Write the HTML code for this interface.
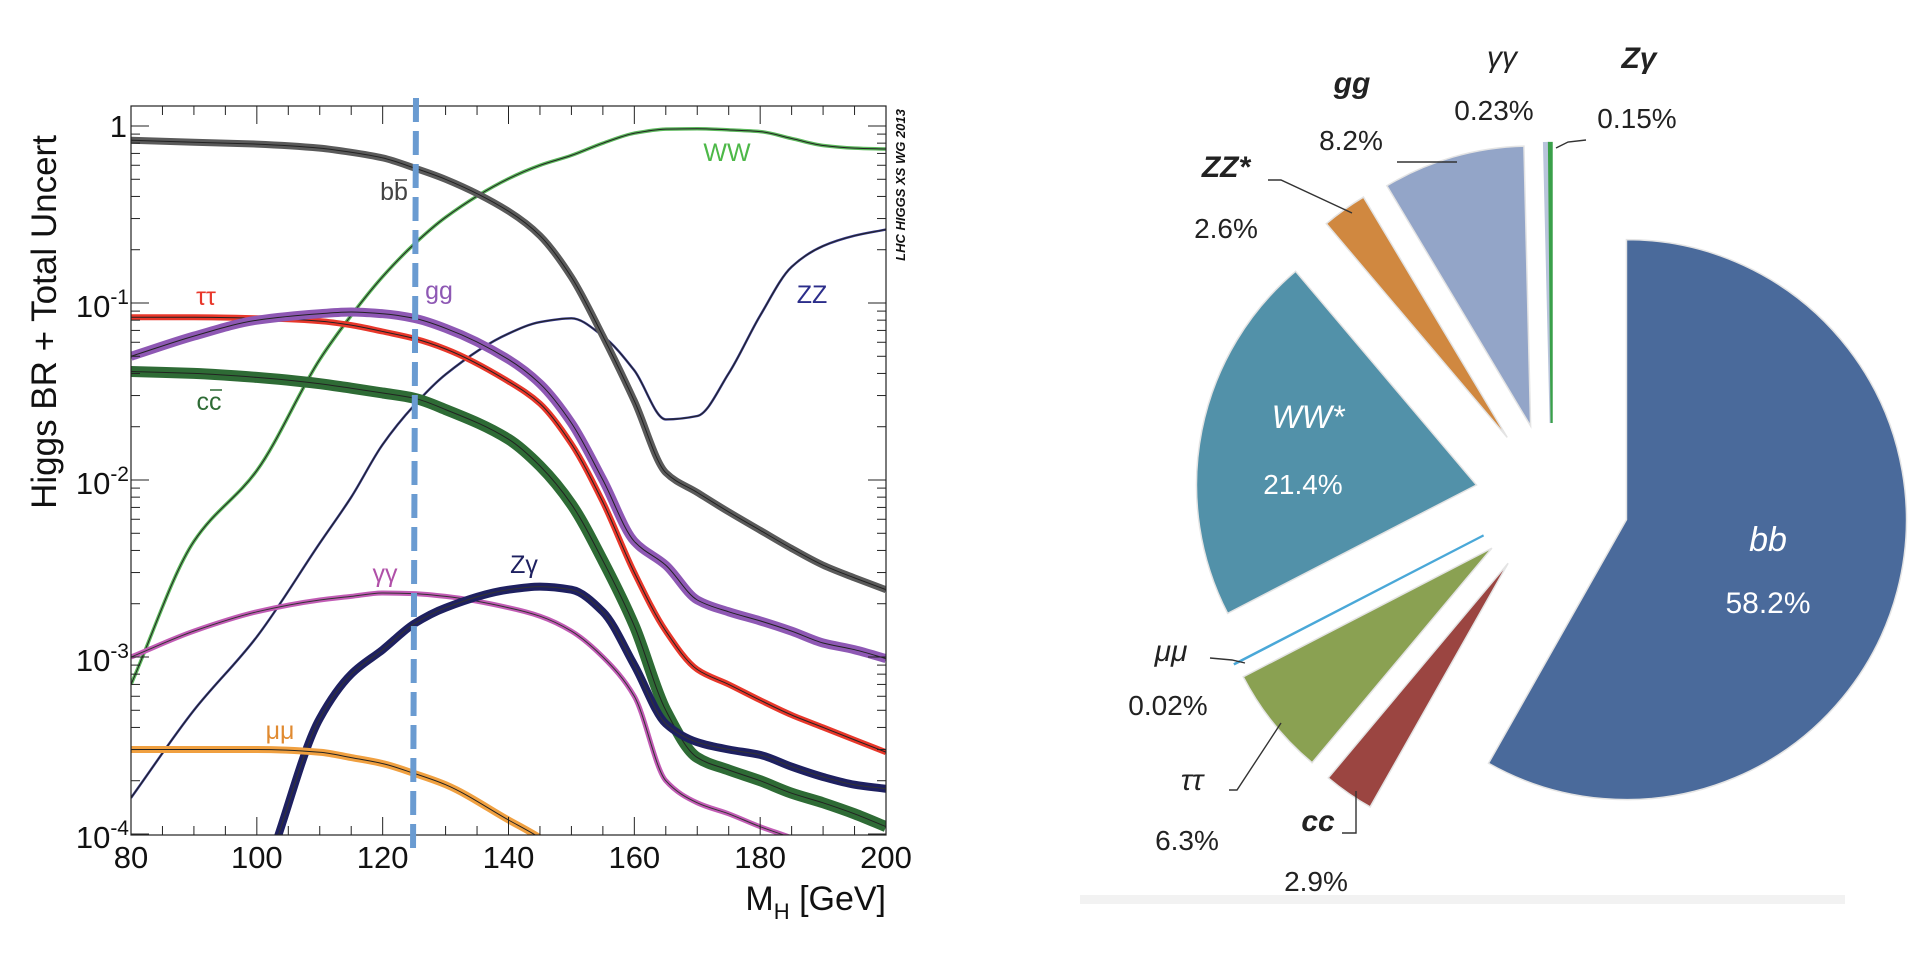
<!DOCTYPE html>
<html><head><meta charset="utf-8"><style>
html,body{margin:0;padding:0;background:#fff;width:1922px;height:978px;overflow:hidden;}
svg{display:block;font-family:"Liberation Sans",sans-serif;overflow:hidden;}
</style></head><body>
<svg id="root" width="1922" height="978" viewBox="0 0 1922 978">
<g id="left"></g>
<g id="right"></g>
</svg>
<script>
// ===== Line chart data =====
const massGrid = [80,90,100,110,115,120,125,130,140,145,150,155,160,165,170,175,180,185,190,195,200];
const brBB  = [0.83,0.81,0.79,0.75,0.71,0.66,0.58,0.5,0.33,0.24,0.14,0.065,0.028,0.011,0.0085,0.0066,0.0052,0.0041,0.0033,0.0028,0.0024];
const brWW  = [0.0007,0.0045,0.0113,0.048,0.085,0.141,0.215,0.305,0.504,0.6,0.682,0.8,0.91,0.96,0.965,0.95,0.93,0.85,0.776,0.75,0.741];
const brZZ  = [0.00016,0.0005,0.0013,0.0044,0.008,0.0159,0.0264,0.0395,0.0672,0.078,0.082,0.065,0.0416,0.022,0.023,0.04,0.085,0.16,0.21,0.24,0.26];
const brTT  = [0.083,0.083,0.082,0.079,0.075,0.069,0.063,0.055,0.036,0.027,0.016,0.0075,0.003,0.0014,0.00085,0.0007,0.00057,0.00047,0.0004,0.00034,0.00029];
const brGG  = [0.05,0.065,0.08,0.087,0.089,0.087,0.082,0.072,0.048,0.035,0.021,0.01,0.0045,0.0033,0.0021,0.0018,0.0016,0.0014,0.0012,0.0011,0.00098];
const brCC  = [0.041,0.040,0.038,0.035,0.033,0.031,0.029,0.025,0.017,0.012,0.0073,0.0035,0.0015,0.0005,0.00027,0.00023,0.0002,0.00017,0.00015,0.00013,0.00011];
const brAA  = [0.001,0.0014,0.0018,0.0021,0.0022,0.0023,0.00228,0.0022,0.0019,0.0017,0.0014,0.001,0.0006,0.0002,0.00015,0.00013,0.00011,0.000095,0.00008,0.00007,0.00006];
const brZA  = [0.00002,0.00002,0.00005,0.00045,0.0008,0.0011,0.00154,0.0019,0.0024,0.0025,0.0024,0.0018,0.0009,0.00042,0.00033,0.0003,0.00028,0.00024,0.00021,0.00019,0.00018];
const brMM  = [0.0003,0.0003,0.0003,0.00029,0.00027,0.00025,0.00022,0.00019,0.00012,0.000095,0.00007,0.00005,0.00003,0.00002,0.00002,0.00002,0.00002,0.00002,0.00002,0.00002,0.00002];
const xTickLabels = ["80","100","120","140","160","180","200"];
const yTickExps = [0,-1,-2,-3,-4];

// ===== Pie data =====
const pieNames = ["bb","cc","ττ","μμ","WW*","ZZ*","gg","γγ","Zγ"];
const piePct = [58.2,2.9,6.3,0.02,21.4,2.6,8.2,0.23,0.15];
const pieColors = ["#4a6a9b","#9b4541","#8aa152","#4aa8d8","#5291a9","#d08840","#93a5c8","#b9c4dc","#3aa04a"];

const NS="http://www.w3.org/2000/svg";
function mk(parent,tag,attrs,text){const e=document.createElementNS(NS,tag);for(const k in attrs)e.setAttribute(k,attrs[k]);if(text!==undefined)e.textContent=text;parent.appendChild(e);return e;}

const PL=131,PR=886,PT=106,PB=835;
const xS=m=>PL+(m-80)*(PR-PL)/120;
const yS=v=>126-177*Math.log10(v);
const L=document.getElementById('left');

const clip=mk(L,'clipPath',{id:'pclip'});
mk(clip,'rect',{x:PL,y:PT,width:PR-PL,height:PB-PT});

function pathFor(vals){
  const X=massGrid.map(xS), Y=vals.map(yS), n=X.length;
  const dl=[],sl=[];
  for(let i=0;i<n-1;i++){dl.push(X[i+1]-X[i]);sl.push((Y[i+1]-Y[i])/(X[i+1]-X[i]));}
  const m=[sl[0]];
  for(let i=1;i<n-1;i++){
    if(sl[i-1]*sl[i]<=0)m.push(0);
    else{const w1=2*dl[i]+dl[i-1],w2=dl[i]+2*dl[i-1];m.push((w1+w2)/(w1/sl[i-1]+w2/sl[i]));}
  }
  m.push(sl[n-2]);
  let d=`M${X[0].toFixed(1)},${Y[0].toFixed(1)}`;
  for(let i=0;i<n-1;i++){
    const h=dl[i]/3;
    d+=`C${(X[i]+h).toFixed(1)},${(Y[i]+m[i]*h).toFixed(1)} ${(X[i+1]-h).toFixed(1)},${(Y[i+1]-m[i+1]*h).toFixed(1)} ${X[i+1].toFixed(1)},${Y[i+1].toFixed(1)}`;
  }
  return d;
}
const curves=mk(L,'g',{'clip-path':'url(#pclip)'});


function series(name,vals,color,w,center){
  const g=mk(curves,'g',{});
  
  
  const d=pathFor(vals);
  mk(g,'path',{d:d,fill:'none',stroke:color,'stroke-width':w});
  mk(g,'path',{d:d,fill:'none',stroke:center,'stroke-width':1});
}
series('curve-ww',brWW,'#5cb85c',3.5,'#222');
series('curve-zz',brZZ,'#34388a',2.4,'#222');
series('curve-bb',brBB,'#5a5a5a',7,'#222');
series('curve-tautau',brTT,'#e8372a',6,'#222');
series('curve-gg',brGG,'#8e58b4',9,'#222');
series('curve-cc',brCC,'#2e6b35',11,'#222');
series('curve-gammagamma',brAA,'#c25cb5',5,'#333');
series('curve-zgamma',brZA,'#1e2060',8,'#333');
series('curve-mumu',brMM,'#f0a040',7,'#222');

const fr=mk(L,'rect',{x:PL,y:PT,width:PR-PL,height:PB-PT,fill:'none',stroke:'#222','stroke-width':1.2});


const ticks=mk(L,'g',{stroke:'#222','stroke-width':1});


for(let m=80;m<=200;m+=5){
  const len=(m%20===0)?18:9;const x=xS(m);
  mk(ticks,'line',{x1:x,x2:x,y1:PB,y2:PB-len});
  mk(ticks,'line',{x1:x,x2:x,y1:PT,y2:PT+len});
}
for(let e=-4;e<=0;e++){
  for(let k=1;k<=9;k++){
    const v=k*Math.pow(10,e);const y=yS(v);
    if(y<PT||y>PB)continue;
    const len=k===1?18:9;
    mk(ticks,'line',{x1:PL,x2:PL+len,y1:y,y2:y});
    mk(ticks,'line',{x1:PR,x2:PR-len,y1:y,y2:y});
  }
}
xTickLabels.forEach(t=>{
  const el=mk(L,'text',{x:xS(+t),y:868,'font-size':31,'text-anchor':'middle',fill:'#111'},t);
  
  
});
yTickExps.forEach(e=>{
  const y=yS(Math.pow(10,e));
  let el;
  if(e===0){el=mk(L,'text',{x:127,y:y+11,'font-size':31,'text-anchor':'end',fill:'#111'},'1');}
  else{el=mk(L,'text',{x:129,y:y+14,'font-size':31,'text-anchor':'end',fill:'#111'});
    mk(el,'tspan',{},'10');mk(el,'tspan',{dy:-13,'font-size':21},String(e));}
  
  
});
const xt=mk(L,'text',{x:886,y:910,'font-size':34,'text-anchor':'end',fill:'#111'});
mk(xt,'tspan',{},'M');mk(xt,'tspan',{dy:9,'font-size':22},'H');mk(xt,'tspan',{dy:-9},' [GeV]');


const yt=mk(L,'text',{x:0,y:0,'font-size':35,'text-anchor':'middle',fill:'#111',transform:'translate(56,322) rotate(-90)'},'Higgs BR + Total Uncert');


const wg=mk(L,'text',{x:0,y:0,'font-size':13,'font-weight':'bold','font-style':'italic','text-anchor':'middle',fill:'#111',transform:'translate(905,185) rotate(-90)'},'LHC HIGGS XS WG 2013');



function lab(x,y,txt,col,name,over){
  const el=mk(L,'text',{x:x,y:y,'font-size':25,fill:col,'text-anchor':'middle'},txt);
  
  
  if(over){mk(L,'line',{x1:x+1,x2:x+13,y1:y-20,y2:y-20,stroke:col,'stroke-width':1.5});}
}
lab(394,200,'bb','#444','label-bb',true);
lab(727,161,'WW','#4db848','label-ww');
lab(812,303,'ZZ','#2b2d8a','label-zz');
lab(206,305,'ττ','#e8372a','label-tautau');
lab(439,299,'gg','#8e58b4','label-gg');
lab(209,410,'cc','#2e6b35','label-cc',true);
lab(385,582,'γγ','#b050a8','label-gammagamma');
lab(524,573,'Zγ','#1e2060','label-zgamma');
lab(280,739,'μμ','#e08a30','label-mumu');

const dl=mk(L,'line',{x1:416,y1:98,x2:413,y2:856,stroke:'#6a9bd1','stroke-width':6,'stroke-dasharray':'24,9'});



// ===== Pie =====
const R=document.getElementById('right');
const strip=mk(R,'rect',{x:1080,y:895,width:765,height:9,fill:'#f2f2f2'});


const CX=1552,CY=500,RAD=280,EXP=77;
let cum=0;
piePct.forEach((p,i)=>{
  const a0=cum/100*2*Math.PI, a1=(cum+p)/100*2*Math.PI; cum+=p;
  const am=(a0+a1)/2;
  const ax=CX+EXP*Math.sin(am), ay=CY-EXP*Math.cos(am);
  const x0=ax+RAD*Math.sin(a0),y0=ay-RAD*Math.cos(a0);
  const x1=ax+RAD*Math.sin(a1),y1=ay-RAD*Math.cos(a1);
  const large=(a1-a0)>Math.PI?1:0;
  const thin=p<0.5;
  const sl=mk(R,'path',{d:`M${ax},${ay}L${x0},${y0}A${RAD},${RAD} 0 ${large} 1 ${x1},${y1}Z`,fill:pieColors[i],stroke:thin?pieColors[i]:'#e4e4e4','stroke-width':thin?2.2:1.5});
  
  
});
function plab(x,y,txt,opt){
  const el=mk(R,'text',Object.assign({x:x,y:y+10,'font-size':28,'text-anchor':'middle',fill:'#222'},opt||{}),txt);
  
  
}
const it={'font-style':'italic','font-weight':'bold','font-size':30};
plab(1352,83,pieNames[6],it);plab(1351,140,piePct[6]+'%');
plab(1502,57,pieNames[7],{'font-style':'italic','font-size':30});plab(1494,110,piePct[7]+'%');
plab(1639,58,pieNames[8],it);plab(1637,118,piePct[8]+'%');
plab(1226,167,pieNames[5],it);plab(1226,228,piePct[5]+'%');
plab(1308,418,pieNames[4],{'font-style':'italic',fill:'#fff','font-size':32});plab(1303,484,piePct[4]+'%',{fill:'#fff'});
plab(1768,541,pieNames[0],{'font-style':'italic',fill:'#fff','font-size':34});plab(1768,603,piePct[0]+'%',{fill:'#fff','font-size':30});
plab(1171,651,pieNames[3],{'font-style':'italic','font-size':30});plab(1168,705,piePct[3]+'%');
plab(1192,780,pieNames[2],{'font-style':'italic','font-size':30});plab(1187,840,piePct[2]+'%');
plab(1318,821,pieNames[1],it);plab(1316,881,piePct[1]+'%');
const lead=mk(R,'g',{stroke:'#333','stroke-width':1.4,fill:'none'});


[[1268,180,1281,180,1352,213],[1397,162,1457,162],[1586,140,1568,142,1556,148],[1210,658,1232,660,1245,663],[1229,790,1237,790,1281,723],[1342,833,1356,833,1356,791]].forEach(pt=>{
  let d='M'+pt[0]+','+pt[1];for(let k=2;k<pt.length;k+=2)d+='L'+pt[k]+','+pt[k+1];
  mk(lead,'path',{d:d});
});
</script>
</body></html>
